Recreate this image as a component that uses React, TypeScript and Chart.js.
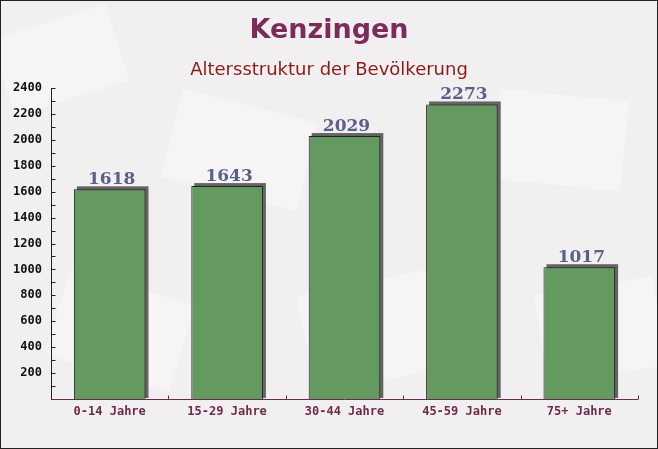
import React, { useEffect, useRef } from "react";
import { Chart, registerables } from "chart.js";

Chart.register(...registerables);

const categories = ["0-14 Jahre", "15-29 Jahre", "30-44 Jahre", "45-59 Jahre", "75+ Jahre"];
const values = [1618, 1643, 2029, 2273, 1017];
const yTickLabels = [200, 400, 600, 800, 1000, 1200, 1400, 1600, 1800, 2000, 2200, 2400];
const titleText = "Kenzingen";
const subtitleText = "Altersstruktur der Bevölkerung";

const bgPlugin = {
  id: "bgPlugin",
  beforeDraw(chart: any) {
    const { ctx, width, height } = chart;
    ctx.save();
    ctx.fillStyle = "#f2eff1";
    ctx.fillRect(0, 0, width, height);
    const shapes = [
      [60, 60, 120, 80, -0.3],
      [240, 150, 140, 90, 0.25],
      [560, 140, 130, 90, 0.1],
      [380, 330, 150, 100, -0.2],
      [120, 330, 130, 90, 0.3],
      [600, 330, 120, 90, -0.15],
    ];
    ctx.fillStyle = "rgba(255,255,255,0.3)";
    for (const [x, y, w, h, r] of shapes) {
      ctx.save();
      ctx.translate(x, y);
      ctx.rotate(r);
      ctx.fillRect(-w / 2, -h / 2, w, h);
      ctx.restore();
    }
    ctx.strokeStyle = "#222";
    ctx.lineWidth = 1;
    ctx.strokeRect(0.5, 0.5, width - 1, height - 1);
    ctx.textAlign = "center";
    ctx.textBaseline = "middle";
    ctx.fillStyle = "#7b2c58";
    ctx.font = "bold 27px 'DejaVu Sans', sans-serif";
    ctx.fillText(titleText, width / 2, 31);
    ctx.fillStyle = "#8b1a1a";
    ctx.font = "18px 'DejaVu Sans', sans-serif";
    ctx.fillText(subtitleText, width / 2, 70);
    ctx.restore();
  },
  beforeDatasetsDraw(chart: any) {
    const { ctx } = chart;
    const meta = chart.getDatasetMeta(0);
    ctx.save();
    ctx.fillStyle = "#646464";
    for (const bar of meta.data) {
      const { x, y, base, width } = bar.getProps(["x", "y", "base", "width"], true);
      const left = x - width / 2;
      ctx.fillRect(left + 3, y - 3, width, base - y + 2);
    }
    ctx.restore();
  },
  afterDatasetsDraw(chart: any) {
    const { ctx, chartArea } = chart;
    const meta = chart.getDatasetMeta(0);
    const ys = chart.scales.y;
    ctx.save();
    ctx.fillStyle = "#5b6088";
    ctx.font = "bold 17px 'DejaVu Serif', serif";
    ctx.textAlign = "center";
    ctx.textBaseline = "alphabetic";
    meta.data.forEach((bar: any, i: number) => {
      const { x, y } = bar.getProps(["x", "y"], true);
      ctx.fillText(String(values[i]), x + 2, y - 5);
    });
    ctx.lineWidth = 1;
    ctx.strokeStyle = "#222";
    ctx.beginPath();
    const ax = Math.round(chartArea.left) + 0.5;
    ctx.moveTo(ax, chartArea.top);
    ctx.lineTo(ax, chartArea.bottom);
    for (let v = 100; v <= 2400; v += 100) {
      const py = Math.round(ys.getPixelForValue(v)) + 0.5;
      ctx.moveTo(ax, py);
      ctx.lineTo(ax + 4, py);
    }
    ctx.stroke();
    ctx.strokeStyle = "#6b2b4b";
    ctx.beginPath();
    const by = Math.round(chartArea.bottom) + 0.5;
    ctx.moveTo(chartArea.left, by);
    ctx.lineTo(chartArea.right, by);
    const step = (chartArea.right - chartArea.left) / categories.length;
    for (let i = 1; i <= categories.length; i++) {
      const px = Math.round(chartArea.left + step * i) + 0.5;
      ctx.moveTo(px, by);
      ctx.lineTo(px, by - 4);
    }
    ctx.stroke();
    ctx.restore();
  },
};

export default function App() {
  const ref = useRef<HTMLCanvasElement>(null);
  useEffect(() => {
    document.body.style.margin = "0";
    const chart = new Chart(ref.current as HTMLCanvasElement, {
      type: "bar",
      data: {
        labels: categories,
        datasets: [
          {
            data: values,
            backgroundColor: "#64995f",
            borderColor: "#222",
            borderWidth: 1,
            borderSkipped: "bottom",
            categoryPercentage: 1,
            barPercentage: 0.61,
          },
        ],
      },
      options: {
        animation: false,
        responsive: false,
        devicePixelRatio: 1,
        layout: { padding: { left: 0, right: 20, top: 88, bottom: 0 } },
        plugins: { legend: { display: false }, title: { display: false }, tooltip: { enabled: false } },
        scales: {
          x: {
            grid: { display: false, drawTicks: false },
            border: { display: false },
            ticks: {
              color: "#6b2b4b",
              font: { family: "'DejaVu Sans Mono', monospace", size: 12, weight: "bold" },
              padding: 6,
            },
            afterFit: (s: any) => {
              s.height = 50;
            },
          },
          y: {
            min: 0,
            max: 2400,
            grid: { display: false, drawTicks: false },
            border: { display: false },
            afterBuildTicks: (s: any) => {
              s.ticks = yTickLabels.map((v) => ({ value: v }));
            },
            ticks: {
              color: "#111",
              font: { family: "'DejaVu Sans Mono', monospace", size: 12, weight: "bold" },
              padding: 9,
              callback: (v: any) => String(v),
            },
            afterFit: (s: any) => {
              s.width = 51;
            },
          },
        },
      },
      plugins: [bgPlugin],
    });
    return () => chart.destroy();
  }, []);
  return <canvas ref={ref} width={658} height={449} style={{ display: "block" }} />;
}
